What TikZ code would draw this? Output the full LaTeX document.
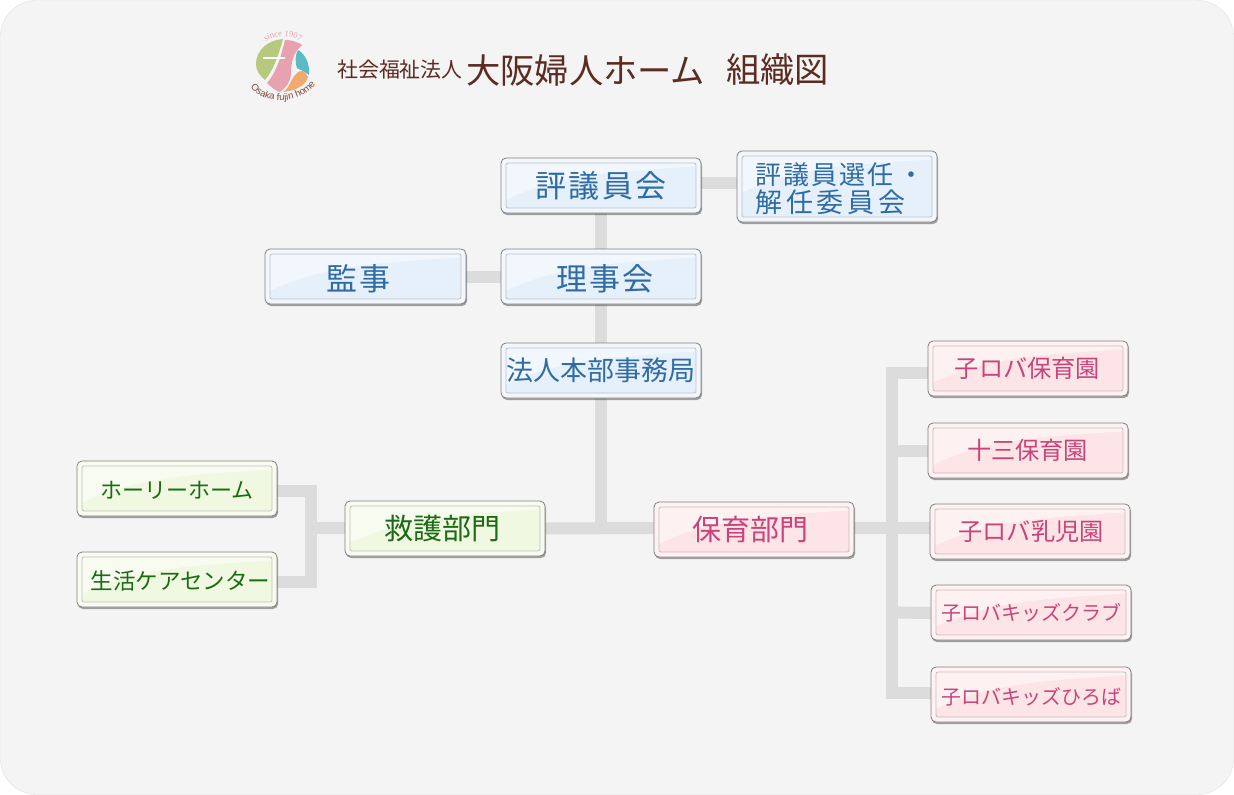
\documentclass[tikz,border=0pt]{standalone}
\usepackage{fontspec}
\usepackage{xcolor}
\setmainfont{Noto Sans CJK JP}
\newfontfamily\logoserif{Liberation Serif}
\newfontfamily\logosans{Liberation Sans}
\usetikzlibrary{positioning, shadows, backgrounds, decorations.text}
\definecolor{panelgray}{HTML}{F4F4F4}
\definecolor{linkgray}{HTML}{DCDCDC}
\definecolor{titlebrown}{HTML}{5C2C22}
\definecolor{blueink}{HTML}{2F6CA3}
\definecolor{greenink}{HTML}{1B6B14}
\definecolor{pinkink}{HTML}{C8447A}
\definecolor{bluebase}{HTML}{E6F0FB}
\definecolor{bluelight}{HTML}{F2F7FD}
\definecolor{greenbase}{HTML}{F1F8E2}
\definecolor{greenlight}{HTML}{F8FBEF}
\definecolor{pinkbase}{HTML}{FCE4E7}
\definecolor{pinklight}{HTML}{FEF1F2}
\definecolor{logogreen}{HTML}{B6C97F}
\definecolor{logopink}{HTML}{E8A1AF}
\definecolor{logoteal}{HTML}{5CB9C5}
\definecolor{logoorange}{HTML}{EFAB6D}
\definecolor{logotext}{HTML}{7A4A3C}
\newcommand{\fsz}[2]{\fontsize{#1}{#1}\selectfont\addfontfeature{LetterSpace=#2}}
\newcommand{\dropby}[2]{\raisebox{-#1}[\height][\depth]{#2}}
\tikzset{
	orgbox/.style n args={3}{rectangle, rounded corners=5pt, draw=black!50, line width=.8pt,
		minimum width=200pt, minimum height=55pt, inner sep=0pt, text=#3, fill=#1,
		drop shadow={shadow xshift=1pt, shadow yshift=-2pt, opacity=.35, fill=black},
		path picture={
			\fill[#2] ([yshift=-44pt]path picture bounding box.north west)
				.. controls ++(60,-28) and ++(-90,6) .. ([yshift=-8pt]path picture bounding box.north east)
				-- (path picture bounding box.north east) -- (path picture bounding box.north west) -- cycle;
			\draw[#2, line width=5pt]
				([shift={(2.5pt,2.5pt)}]path picture bounding box.south west)
				rectangle ([shift={(-2.5pt,-2.5pt)}]path picture bounding box.north east);
			\draw[black!25, line width=.8pt, rounded corners=2pt]
				([shift={(5pt,5pt)}]path picture bounding box.south west)
				rectangle ([shift={(-5pt,-5pt)}]path picture bounding box.north east);
		}},
	bluebox/.style={orgbox={bluebase}{bluelight}{blueink}},
	greenbox/.style={orgbox={greenbase}{greenlight}{greenink}},
	pinkbox/.style={orgbox={pinkbase}{pinklight}{pinkink}},
	link/.style={draw=linkgray, line width=12pt}
}
\begin{document}
\begin{tikzpicture}[x=1pt,y=-1pt]
	\useasboundingbox (0,0) rectangle (1234,795);

	\node[anchor=west, text=titlebrown, inner sep=0pt, font=\fsz{20.9}{0}](t1) at (337,70) {社会福祉法人};
	\node[anchor=west, text=titlebrown, inner sep=0pt, font=\fsz{34.3}{0}](t2) at (466,70) {大阪婦人ホーム};
	\node[anchor=west, text=titlebrown, inner sep=0pt, font=\fsz{34.3}{0}](t3) at (726,70) {組織図};

	\fill[logogreen] (283,39) .. controls (268,40) and (256,50) .. (256,64)
		.. controls (256,70) and (259,75) .. (265,80) .. controls (272,72) and (278,58) .. cycle;
	\fill[logopink] (285,40) .. controls (292,40) and (298,42) .. (302,45)
		.. controls (292,54) and (291,64) .. (291,75) .. controls (290,82) and (286,88) .. (280,92)
		.. controls (276,91) and (271,87) .. (267,83) .. controls (278,70) and (281,55) .. cycle;
	\fill[logoteal] (298,50) .. controls (305,54) and (310,63) .. (309,75)
		.. controls (305,72) and (301,70) .. (297,68) .. controls (295,63) and (295,55) .. cycle;
	\fill[logoorange] (308,77) .. controls (306,85) and (296,91) .. (283,92)
		.. controls (290,88) and (291,78) .. (297,73) .. controls (301,69) and (305,71) .. cycle;
	\draw[white, line width=1.8pt] (263,58) -- (285,58);
	\path[decorate, decoration={text along path, text align=center,
		text={|\logoserif\fontsize{8.5}{8.5}\selectfont\color{logopink}|since 1907}}]
		(259,47) .. controls (270,33) and (296,33) .. (307,47);
	\path[decorate, decoration={text along path, text align=center,
		text={|\logosans\fontsize{9.5}{9.5}\selectfont\color{logotext}|Osaka fujin home}}]
		(249,85) .. controls (262,106) and (302,106) .. (317,82);

	\node[bluebox, font=\fsz{31}{8}](hyogi) at (601,185.5) {評議員会};
	\node[bluebox, minimum height=71pt, font=\fsz{26}{8}, align=left](senin) at (837,186.5) {\rule{0pt}{26pt}評議員選任\hspace{5pt}・\kern-6pt\\[2pt]\fsz{27}{14}解任委員会};
	\node[bluebox, minimum width=201pt, font=\fsz{31}{4}](kanji) at (365.5,276.5) {\dropby{2.5pt}{監事}\kern14pt};
	\node[bluebox, font=\fsz{31}{8}](riji) at (601,276.5) {\hspace{8pt}\dropby{2.5pt}{理事会}};
	\node[bluebox, font=\fsz{27}{0}](honbu) at (601,370.5) {法人本部事務局};

	\node[greenbox, font=\fsz{29}{0}](kyugo) at (445,528.5) {救護部門\kern5pt};
	\node[greenbox, font=\fsz{22}{0}](holy) at (177,488.5) {\dropby{1.5pt}{ホーリーホーム}};
	\node[greenbox, font=\fsz{22.5}{0}](seikatsu) at (177,579.5) {\hspace{7pt}\dropby{1pt}{生活ケアセンター}};

	\node[pinkbox, font=\fsz{29}{0}](hoiku) at (754,529.5) {保育部門\kern7pt};
	\node[pinkbox, font=\fsz{24.2}{0}](koroba) at (1028,368.5) {子ロバ保育園\kern1pt};
	\node[pinkbox, font=\fsz{24.2}{0}](juso) at (1028,450.5) {十三保育園\kern1pt};
	\node[pinkbox, font=\fsz{24.2}{0}](nyuji) at (1030,531.5) {\hspace{2pt}子ロバ乳児園};
	\node[pinkbox, font=\fsz{20}{0}](club) at (1031,612.5) {子ロバキッズクラブ};
	\node[pinkbox, font=\fsz{20}{0}](hiroba) at (1031,694.5) {\dropby{2pt}{子ロバキッズひろば}};

	\coordinate (lbus) at (311,528);
	\coordinate (cbus) at (601,528);
	\coordinate (rbus) at (892,528);
	\begin{scope}[on background layer]
		\draw[panelgray!92!black, fill=panelgray, rounded corners=36pt] (0.5,0.5) rectangle (1233.5,794.5);
		\draw[link] (hyogi) -- (riji);
		\draw[link] (riji) -- (honbu);
		\draw[link] (honbu) -- (cbus);
		\draw[link] ([yshift=2.5pt]hyogi.east) -- ([yshift=3.5pt]senin.west);
		\draw[link] (kanji) -- (riji);
		\draw[link] (kyugo.east) -- ([yshift=1.5pt]hoiku.west);
		\draw[link] ([yshift=.5pt]kyugo.west) -- (lbus);
		\draw[link] ([yshift=1.5pt]hoiku.east) -- (rbus);
		\draw[link] ([yshift=-2.5pt]holy.east) -| (lbus);
		\draw[link] ([yshift=-2.5pt]seikatsu.east) -| (lbus);
		\draw[link] ([yshift=-4.5pt]koroba.west) -| (rbus);
		\draw[link] (juso.west) -- (juso.west -| rbus);
		\draw[link] (rbus) -- (nyuji.west |- rbus);
		\draw[link] ([yshift=-.5pt]club.west) -- (club.west -| rbus);
		\draw[link] ([yshift=1.5pt]hiroba.west) -| (rbus);
	\end{scope}
\end{tikzpicture}
\end{document}
